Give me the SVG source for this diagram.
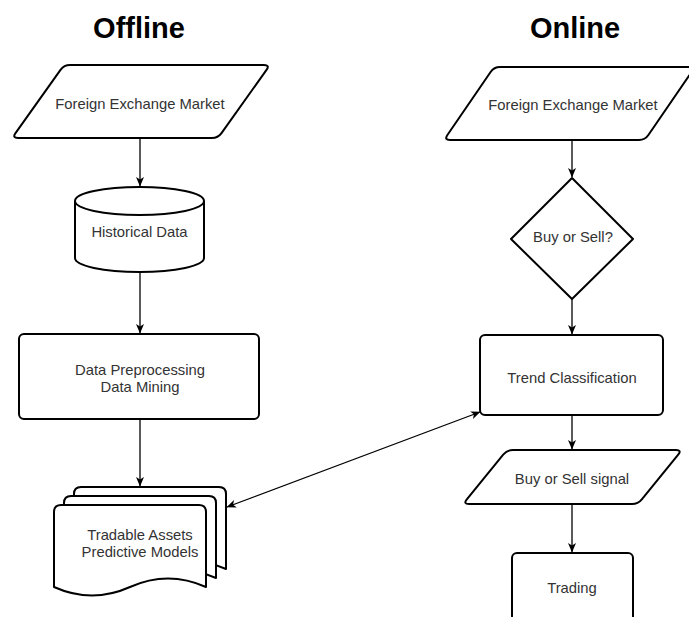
<svg xmlns="http://www.w3.org/2000/svg" xmlns:xlink="http://www.w3.org/1999/xlink" width="689" height="617" viewBox="0 0 689 617">
  <style>
    .shape { fill: #ffffff; stroke: #000000; stroke-width: 2; stroke-linejoin: round; }
    .edge { fill: none; stroke: #000000; stroke-width: 1.3; }
    .label { font-family: "Liberation Sans", Arial, sans-serif; font-size: 14.8px; fill: #333333; text-anchor: middle; }
    .title { font-family: "Liberation Sans", Arial, sans-serif; font-size: 29px; font-weight: bold; fill: #000000; text-anchor: middle; }
  </style>
  <defs>
    <marker id="arrow" viewBox="0 0 10 10" refX="9.5" refY="5" markerWidth="10" markerHeight="10" markerUnits="userSpaceOnUse" orient="auto-start-reverse">
      <path d="M0.5,1 L10,5 L0.5,9 L3,5 Z" fill="#000000"/>
    </marker>
    <!-- single page of the stacked-document shape, 152 wide -->
    <path id="page" d="M0,82 L0,7 Q0,0 7,0 L145,0 Q152,0 152,7 L152,82 Q114,65 76,82 Q38,99 0,82 Z"/>
  </defs>

  <rect width="689" height="617" fill="#ffffff"/>

  <!-- column headings -->
  <g id="heading-offline"><text class="title" x="139" y="38">Offline</text></g>
  <g id="heading-online"><text class="title" x="575" y="38">Online</text></g>

  <!-- connectors -->
  <g id="connectors">
    <path class="edge" d="M140,138 L140,186" marker-end="url(#arrow)"/>
    <path class="edge" d="M140,272 L140,333" marker-end="url(#arrow)"/>
    <path class="edge" d="M140,419 L140,486" marker-end="url(#arrow)"/>
    <path class="edge" d="M572,140 L572,177" marker-end="url(#arrow)"/>
    <path class="edge" d="M572,299 L572,334" marker-end="url(#arrow)"/>
    <path class="edge" d="M572,415 L572,449" marker-end="url(#arrow)"/>
    <path class="edge" d="M572,504 L572,552" marker-end="url(#arrow)"/>
    <path class="edge" d="M227,507 L480,412" marker-start="url(#arrow)" marker-end="url(#arrow)"/>
  </g>

  <!-- offline column -->
  <g id="offline-market">
    <path class="shape" d="M70,65 L264,65 Q270,65 266.5,69.9 L221.5,133.1 Q218,138 212,138 L18,138 Q12,138 15.5,133.1 L60.5,69.9 Q64,65 70,65 Z"/>
    <text class="label" x="140" y="109">Foreign Exchange Market</text>
  </g>

  <g id="historical-data">
    <path class="shape" d="M75,201 A64.5,14 0 0 1 204,201 L204,258 A64.5,14 0 0 1 75,258 Z"/>
    <path class="shape" fill="none" d="M75,201 A64.5,14 0 0 0 204,201"/>
    <text class="label" x="139.5" y="237">Historical Data</text>
  </g>

  <g id="preprocessing">
    <rect class="shape" x="19" y="334" width="240" height="85" rx="5" ry="5"/>
    <text class="label" x="140" y="375">Data Preprocessing</text>
    <text class="label" x="140" y="392">Data Mining</text>
  </g>

  <g id="models">
    <use xlink:href="#page" class="shape" transform="translate(74,487)"/>
    <use xlink:href="#page" class="shape" transform="translate(64,496)"/>
    <use xlink:href="#page" class="shape" transform="translate(54,505)"/>
    <text class="label" x="140" y="540">Tradable Assets</text>
    <text class="label" x="140" y="557">Predictive Models</text>
  </g>

  <!-- online column -->
  <g id="online-market">
    <path class="shape" d="M500,67 L689,67 Q695,67 691.6,72 L648.4,135 Q645,140 639,140 L450,140 Q444,140 447.4,135 L490.6,72 Q494,67 500,67 Z"/>
    <text class="label" x="573" y="110">Foreign Exchange Market</text>
  </g>

  <g id="buy-or-sell">
    <path class="shape" d="M572,178 L633,239 L572,299 L511,239 Z"/>
    <text class="label" x="573" y="242">Buy or Sell?</text>
  </g>

  <g id="trend-classification">
    <rect class="shape" x="480" y="335" width="183" height="80" rx="5" ry="5"/>
    <text class="label" x="572" y="382.5">Trend Classification</text>
  </g>

  <g id="signal">
    <path class="shape" d="M513,450 L676,450 Q682,450 678.2,454.7 L641.8,499.3 Q638,504 632,504 L469,504 Q463,504 466.8,499.3 L503.2,454.7 Q507,450 513,450 Z"/>
    <text class="label" x="572" y="484">Buy or Sell signal</text>
  </g>

  <g id="trading">
    <rect class="shape" x="512" y="553" width="121" height="90" rx="5" ry="5"/>
    <text class="label" x="572" y="593">Trading</text>
  </g>
</svg>
